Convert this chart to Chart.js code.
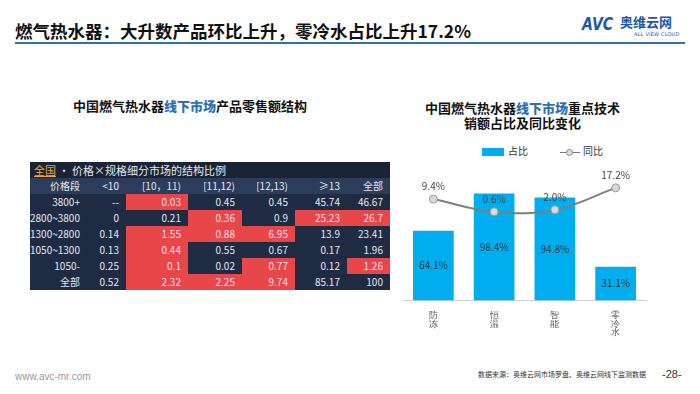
<!DOCTYPE html>
<html>
<head>
<meta charset="utf-8">
<script src="https://cdn.jsdelivr.net/npm/chart.js@4.4.1/dist/chart.umd.min.js"></script>
<style>
  body { margin: 0; width: 700px; height: 394px; background: #fff; position: relative; overflow: hidden;
         font-family: "Noto Sans CJK SC", "Noto Sans", sans-serif; }
  .abs { position: absolute; }
  #title { left: 15px; top: 18px; font-size: 17.5px; font-weight: bold; color: #111; white-space: nowrap; }
  #rule { left: 15px; top: 42px; width: 670px; height: 2px; background: #2f6fb5; }
  #logo-avc { left: 582px; top: 13px; font-size: 18px; font-weight: 900; font-style: italic; color: #1d58a6;
              font-family: "DejaVu Sans", sans-serif; transform: scaleX(0.78); transform-origin: left center; }
  #logo-cn { left: 620px; top: 13px; font-size: 13px; line-height: 17px; font-weight: bold; color: #1d58a6; }
  #logo-en { left: 634px; top: 31px; font-size: 5px; line-height: 6px; color: #1d58a6; font-family: "DejaVu Sans", sans-serif; letter-spacing: 0.2px; }
  .sub { font-size: 13px; font-weight: bold; color: #111; text-align: center; line-height: 15px; white-space: nowrap; }
  .sub b { color: #2f6fb5; }
  #tbl { left: 30px; top: 162px; border-collapse: collapse; font-size: 10px; color: #e3e8f0;
         font-family: "Noto Sans CJK SC", sans-serif; background: #1f2b42; }
  #tbl td { height: 16px; padding: 0 7px 0 0; text-align: right; line-height: 16px; white-space: nowrap; }
  #tbl tr.cap td { background: #1a2437; text-align: left; padding-left: 4px; font-size: 11px; }
  #tbl tr.head td { background: #2c3d5b; }
  #tbl td.hot { background: #e8474a; color: #fde; }
  .cap .q { color: #f2a53a; text-decoration: underline; }
  #legend { left: 482px; top: 143px; font-size: 10px; color: #333; white-space: nowrap; }
  .lg-box { display: inline-block; width: 22px; height: 8px; background: #00aeef; vertical-align: middle; margin-right: 4px; }
  .lg-line { display: inline-block; width: 20px; height: 8px; vertical-align: middle; margin: 0 3px 0 32px; position: relative; }
  .lg-line:before { content: ""; position: absolute; left: 0; right: 0; top: 3.5px; border-top: 1px solid #777; }
  .lg-line:after { content: ""; position: absolute; left: 6px; top: 1px; width: 5px; height: 5px; border: 1px solid #888; border-radius: 50%; background: #ddd; }
  #foot-l { left: 15px; top: 371px; font-size: 10px; color: #999; font-family: "Liberation Sans", sans-serif; }
  #foot-r { left: 478px; top: 369px; font-size: 7px; color: #333; white-space: nowrap; }
  #page { left: 662px; top: 368px; font-size: 11px; color: #333; font-family: "Liberation Sans", sans-serif; }
</style>
</head>
<body>
<div id="title" class="abs">燃气热水器：大升数产品环比上升，零冷水占比上升17.2%</div>
<div id="rule" class="abs"></div>
<div id="logo-avc" class="abs">AVC</div>
<div id="logo-cn" class="abs">奥维云网</div>
<div id="logo-en" class="abs">ALL VIEW CLOUD</div>

<div class="abs sub" style="left:40px;top:98px;width:300px;">中国燃气热水器<b>线下市场</b>产品零售额结构</div>
<table id="tbl" class="abs"></table>

<div class="abs sub" style="left:410px;top:100px;width:225px;">中国燃气热水器<b>线下市场</b>重点技术</div>
<div class="abs sub" style="left:410px;top:115px;width:225px;">销额占比及同比变化</div>
<div id="legend" class="abs"><span class="lg-box"></span>占比<span class="lg-line"></span>同比</div>
<div class="abs" style="left:398px;top:160px;width:254px;height:180px;"><canvas id="techChart"></canvas></div>

<div id="foot-l" class="abs">www.avc-mr.com</div>
<div id="foot-r" class="abs">数据来源：奥维云网市场罗盘、奥维云网线下监测数据</div>
<div id="page" class="abs">-28-</div>

<script>
// table: price band x size band share (%)
const tableCaption = "价格×规格细分市场的结构比例";
const sizeBands = ["<10", "[10，11)", "[11,12)", "[12,13)", "≥13", "全部"];
const priceBands = ["3800+", "2800~3800", "1300~2800", "1050~1300", "1050-", "全部"];
const row3800 = ["--", 0.03, 0.45, 0.45, 45.74, 46.67];
const row2800 = [0, 0.21, 0.36, 0.9, 25.23, 26.7];
const row1300 = [0.14, 1.55, 0.88, 6.95, 13.9, 23.41];
const row1050to1300 = [0.13, 0.44, 0.55, 0.67, 0.17, 1.96];
const row1050 = [0.25, 0.1, 0.02, 0.77, 0.12, 1.26];
const rowAll = [0.52, 2.32, 2.25, 9.74, 85.17, 100];
// which cells are highlighted (1 = red)
const hot3800 = [0, 1, 0, 0, 0, 0];
const hot2800 = [0, 0, 1, 0, 1, 1];
const hot1300 = [0, 1, 1, 1, 0, 0];
const hot1050to1300 = [0, 1, 0, 0, 0, 0];
const hot1050 = [0, 1, 0, 1, 0, 1];
const hotAll = [0, 1, 1, 1, 0, 0];

// right chart
const techs = [["防", "冻"], ["恒", "温"], ["智", "能"], ["零", "冷", "水"]];
const shareValues = [64.1, 98.4, 94.8, 31.1];
const yoyValues = [9.4, 0.6, 2.0, 17.2];

// build table
const colWidths = [50, 39, 62, 54, 53, 52, 43];
const tbl = document.getElementById("tbl");
let html = '<tr class="cap"><td colspan="7"><span class="q">全国</span> • ' + tableCaption + '</td></tr>';
html += '<tr class="head"><td style="width:' + (colWidths[0] - 7) + 'px;padding-right:7px">价格段</td>';
sizeBands.forEach((s, i) => {
  html += '<td style="width:' + (colWidths[i + 1] - 7) + 'px">' + s + '</td>';
});
html += '</tr>';
const bodyRows = [row3800, row2800, row1300, row1050to1300, row1050, rowAll];
const hotRows = [hot3800, hot2800, hot1300, hot1050to1300, hot1050, hotAll];
bodyRows.forEach((r, ri) => {
  html += '<tr><td>' + priceBands[ri] + '</td>';
  r.forEach((v, ci) => {
    html += '<td class="' + (hotRows[ri][ci] ? "hot" : "") + '">' + v + '</td>';
  });
  html += '</tr>';
});
tbl.innerHTML = html;

// value labels plugin
const valueLabels = {
  id: "valueLabels",
  afterDatasetsDraw(chart) {
    const ctx = chart.ctx;
    ctx.save();
    ctx.font = "10px 'Noto Sans CJK SC', sans-serif";
    ctx.textAlign = "center";
    ctx.textBaseline = "middle";
    chart.getDatasetMeta(0).data.forEach((bar, i) => {
      ctx.fillStyle = "#333";
      ctx.fillText(shareValues[i].toFixed(1) + "%", bar.x, (bar.y + bar.base) / 2);
    });
    chart.getDatasetMeta(1).data.forEach((pt, i) => {
      ctx.fillStyle = "#444";
      ctx.fillText(yoyValues[i].toFixed(1) + "%", pt.x, pt.y - 13);
    });
    ctx.restore();
  }
};

new Chart(document.getElementById("techChart"), {
  type: "bar",
  data: {
    labels: techs,
    datasets: [
      {
        label: "占比",
        data: shareValues,
        backgroundColor: "#00aeef",
        barPercentage: 0.67,
        categoryPercentage: 1,
        order: 2
      },
      {
        label: "同比",
        type: "line",
        data: yoyValues,
        yAxisID: "y2",
        borderColor: "#7f7f7f",
        borderWidth: 2,
        tension: 0.4,
        pointRadius: 4,
        pointBackgroundColor: "#d9d9d9",
        pointBorderColor: "#9a9a9a",
        pointBorderWidth: 1,
        order: 1
      }
    ]
  },
  options: {
    responsive: true,
    maintainAspectRatio: false,
    animation: false,
    layout: { padding: { top: 10, left: 4, right: 6 } },
    plugins: { legend: { display: false }, tooltip: { enabled: false } },
    scales: {
      x: {
        grid: { display: false },
        border: { color: "#d0d0d0" },
        ticks: { color: "#555", font: { size: 8.5, lineHeight: 1 }, maxRotation: 0, padding: 3 }
      },
      y: { display: false, min: 0, max: 120 },
      y2: { display: false, min: -61, max: 29.6 }
    }
  },
  plugins: [valueLabels]
});
</script>
</body>
</html>
